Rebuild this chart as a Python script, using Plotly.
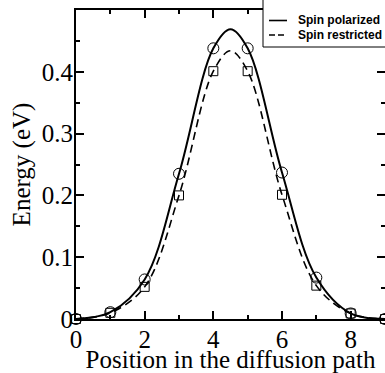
import plotly.graph_objects as go

# Images along the diffusion path
positions = [0, 1, 2, 3, 4, 5, 6, 7, 8, 9]
e_polarized = [0.0, 0.011, 0.064, 0.235, 0.438, 0.438, 0.237, 0.067, 0.009, 0.0]
e_restricted = [0.0, 0.010, 0.052, 0.200, 0.401, 0.401, 0.201, 0.054, 0.009, 0.0]

# Smooth fitted profiles (including the saddle point at 4.5)
fit_x = [0, 1, 2, 3, 4, 4.5, 5, 6, 7, 8, 9]
fit_polarized = [0.0, 0.011, 0.064, 0.235, 0.438, 0.469, 0.438, 0.237, 0.067, 0.009, 0.0]
fit_restricted = [0.0, 0.010, 0.052, 0.200, 0.401, 0.434, 0.401, 0.201, 0.054, 0.009, 0.0]

legend_labels = ["Spin polarized", "Spin restricted"]
legend_dashes = ["solid", "6px,3px"]

fig = go.Figure()

fig.add_trace(go.Scatter(
    x=fit_x, y=fit_polarized, mode="lines", name=legend_labels[0],
    line=dict(color="black", width=2, shape="spline", smoothing=1.0),
))
fig.add_trace(go.Scatter(
    x=fit_x, y=fit_restricted, mode="lines", name=legend_labels[1],
    line=dict(color="black", width=1.6, dash="8px,5px", shape="spline", smoothing=1.0),
))
fig.add_trace(go.Scatter(
    x=positions, y=e_polarized, mode="markers",
    marker=dict(symbol="circle-open", size=11, color="black", line=dict(width=1)),
    cliponaxis=False,
))
fig.add_trace(go.Scatter(
    x=positions, y=e_restricted, mode="markers",
    marker=dict(symbol="square-open", size=9, color="black", line=dict(width=1)),
    cliponaxis=False,
))

serif = "Liberation Serif, Times New Roman, serif"
axis_common = dict(
    showgrid=False, zeroline=False, automargin=False,
    showline=True, linecolor="black", linewidth=2, mirror="ticks",
    ticks="inside", ticklen=8, tickwidth=1.5, tickcolor="black",
    tickfont=dict(family=serif, size=25, color="black"),
)

fig.update_xaxes(
    range=[0, 9], tick0=0, dtick=2,
    minor=dict(dtick=1, ticks="inside", ticklen=4, tickwidth=1.5, tickcolor="black"),
    title=dict(text="Position in the diffusion path", font=dict(family=serif, size=25, color="black"), standoff=3),
    ticklabelstandoff=-3,
    **axis_common,
)
fig.update_yaxes(
    range=[0, 0.5], tick0=0, dtick=0.1,
    minor=dict(dtick=0.05, ticks="inside", ticklen=4, tickwidth=1.5, tickcolor="black"),
    title=dict(text="Energy (eV)", font=dict(family=serif, size=25, color="black"), standoff=4),
    ticklabelstandoff=-4,
    **axis_common,
)

# Legend box in the top-right corner, drawn in paper coordinates
# (plot area spans 309 px in both directions)
px = 309.0
def paper_x(p):
    return (p - 76) / px

def paper_y(p):
    return (319 - p) / px

fig.add_shape(type="rect", xref="paper", yref="paper",
              x0=paper_x(263), x1=paper_x(392), y0=paper_y(47), y1=paper_y(-2),
              line=dict(color="black", width=1), fillcolor="white", layer="above")
for i, (label, dash) in enumerate(zip(legend_labels, legend_dashes)):
    yrow = 20.5 + 14.5 * i
    fig.add_shape(type="line", xref="paper", yref="paper",
                  x0=paper_x(269), x1=paper_x(287), y0=paper_y(yrow), y1=paper_y(yrow),
                  line=dict(color="black", width=1.6, dash=dash), layer="above")
    fig.add_annotation(text=label, xref="paper", yref="paper",
                       x=paper_x(296), y=paper_y(yrow), xanchor="left", yanchor="middle",
                       showarrow=False,
                       font=dict(family="Liberation Sans, Arial, sans-serif", size=12,
                                 color="black", weight="bold"))

fig.update_layout(
    width=385, height=373,
    margin=dict(l=76, r=0, t=10, b=54),
    paper_bgcolor="white", plot_bgcolor="white",
    showlegend=False,
)

fig.write_html("out.html")
